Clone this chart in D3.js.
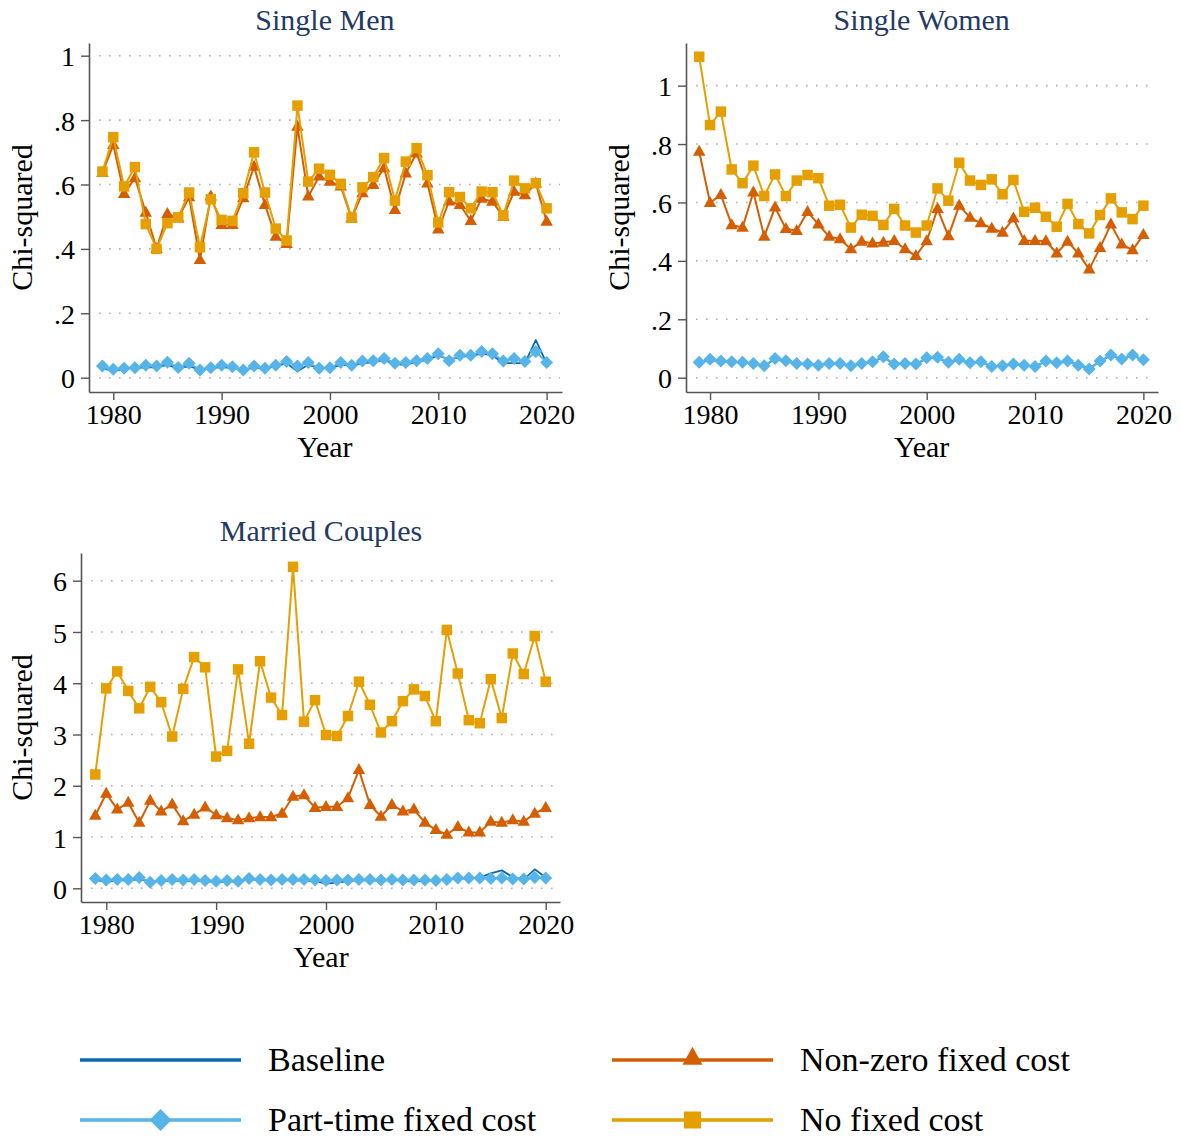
<!DOCTYPE html>
<html>
<head>
<meta charset="utf-8">
<script src="https://cdn.jsdelivr.net/npm/d3@7"></script>
<style>
  html, body { margin: 0; padding: 0; background: #fff; }
  svg { display: block; font-family: "Liberation Serif", "Times New Roman", serif; }
</style>
</head>
<body>
<svg id="chart" width="1181" height="1139"></svg>
<script>
const years = [1979,1980,1981,1982,1983,1984,1985,1986,1987,1988,1989,1990,1991,1992,1993,1994,1995,1996,1997,1998,1999,2000,2001,2002,2003,2004,2005,2006,2007,2008,2009,2010,2011,2012,2013,2014,2015,2016,2017,2018,2019,2020];

const seriesNames = ["Baseline", "Part-time fixed cost", "Non-zero fixed cost", "No fixed cost"];
const panelTitles = ["Single Men", "Single Women", "Married Couples"];
const xTickValues = [1980, 1990, 2000, 2010, 2020];
const smTicks = [0, 0.2, 0.4, 0.6, 0.8, 1];
const swTicks = [0, 0.2, 0.4, 0.6, 0.8, 1];
const mcTicks = [0, 1, 2, 3, 4, 5, 6];

// Single Men
const smBaseline = [0.030,0.020,0.028,0.030,0.032,0.032,0.040,0.030,0.035,0.026,
  0.030,0.033,0.030,0.026,0.030,0.030,0.035,0.045,0.020,0.040,
  0.030,0.030,0.040,0.038,0.045,0.048,0.055,0.042,0.040,0.050,
  0.055,0.070,0.055,0.065,0.068,0.075,0.070,0.045,0.045,0.045,
  0.117,0.045];
const smPartTime = [0.036,0.026,0.029,0.031,0.039,0.036,0.048,0.032,0.045,0.024,
  0.031,0.039,0.034,0.024,0.036,0.029,0.039,0.050,0.036,0.047,
  0.029,0.031,0.047,0.039,0.052,0.053,0.060,0.045,0.047,0.053,
  0.060,0.074,0.053,0.070,0.070,0.081,0.074,0.052,0.060,0.050,
  0.081,0.047];
const smNonZero = [0.636,0.723,0.571,0.620,0.513,0.400,0.509,0.495,0.561,0.366,
  0.563,0.475,0.475,0.558,0.656,0.537,0.438,0.416,0.780,0.563,
  0.625,0.609,0.594,0.495,0.573,0.599,0.651,0.521,0.635,0.697,
  0.604,0.461,0.548,0.537,0.487,0.556,0.547,0.500,0.578,0.567,
  0.604,0.485];
const smNoFixed = [0.640,0.747,0.594,0.654,0.477,0.400,0.480,0.498,0.575,0.405,
  0.554,0.490,0.487,0.573,0.700,0.575,0.463,0.426,0.845,0.609,
  0.649,0.630,0.602,0.497,0.591,0.623,0.682,0.550,0.671,0.713,
  0.629,0.482,0.576,0.561,0.526,0.578,0.576,0.504,0.612,0.588,
  0.604,0.526];

// Single Women
const swBaseline = [0.052,0.060,0.056,0.054,0.052,0.048,0.041,0.063,0.056,0.048,
  0.046,0.043,0.048,0.048,0.041,0.048,0.054,0.070,0.046,0.048,
  0.046,0.066,0.068,0.052,0.061,0.050,0.054,0.038,0.041,0.046,
  0.043,0.038,0.056,0.050,0.056,0.043,0.031,0.056,0.076,0.063,
  0.076,0.060];
const swPartTime = [0.053,0.063,0.057,0.055,0.053,0.049,0.041,0.066,0.058,0.049,
  0.047,0.043,0.049,0.049,0.041,0.049,0.055,0.072,0.047,0.049,
  0.047,0.068,0.070,0.053,0.063,0.051,0.055,0.038,0.041,0.047,
  0.043,0.038,0.057,0.051,0.057,0.043,0.030,0.057,0.078,0.064,
  0.078,0.061];
const swNonZero = [0.774,0.599,0.626,0.523,0.514,0.635,0.483,0.583,0.510,0.503,
  0.568,0.525,0.483,0.475,0.440,0.466,0.460,0.463,0.469,0.440,
  0.417,0.468,0.578,0.485,0.589,0.548,0.529,0.511,0.497,0.546,
  0.469,0.469,0.468,0.426,0.466,0.426,0.371,0.445,0.525,0.457,
  0.437,0.489];
const swNoFixed = [1.099,0.865,0.911,0.713,0.666,0.726,0.622,0.696,0.622,0.675,
  0.694,0.683,0.589,0.592,0.514,0.558,0.554,0.523,0.578,0.521,
  0.497,0.521,0.648,0.606,0.736,0.675,0.660,0.679,0.628,0.677,
  0.568,0.582,0.551,0.517,0.595,0.526,0.494,0.557,0.614,0.566,
  0.543,0.589];

// Married Couples
const mcBaseline = [0.17,0.12,0.16,0.15,0.18,0.13,0.14,0.15,0.14,0.15,
  0.14,0.12,0.13,0.13,0.18,0.16,0.15,0.16,0.15,0.15,
  0.14,0.09,0.11,0.14,0.16,0.15,0.15,0.16,0.15,0.13,
  0.15,0.15,0.18,0.19,0.19,0.21,0.29,0.35,0.22,0.17,
  0.37,0.21];
const mcPartTime = [0.19,0.16,0.17,0.17,0.21,0.12,0.15,0.17,0.16,0.17,
  0.15,0.14,0.15,0.14,0.19,0.17,0.16,0.17,0.17,0.17,
  0.16,0.15,0.16,0.16,0.17,0.17,0.16,0.17,0.16,0.16,
  0.16,0.15,0.17,0.20,0.20,0.20,0.19,0.20,0.18,0.18,
  0.21,0.20];
const mcNonZero = [1.42,1.85,1.54,1.67,1.28,1.71,1.50,1.64,1.31,1.44,
  1.58,1.43,1.37,1.33,1.37,1.39,1.39,1.46,1.79,1.82,
  1.57,1.59,1.59,1.76,2.31,1.63,1.40,1.63,1.50,1.54,
  1.28,1.14,1.05,1.20,1.09,1.09,1.30,1.28,1.33,1.30,
  1.46,1.57];
const mcNoFixed = [2.22,3.90,4.23,3.85,3.51,3.93,3.63,2.96,3.89,4.51,
  4.31,2.57,2.68,4.27,2.82,4.43,3.72,3.38,6.27,3.25,
  3.67,2.99,2.97,3.36,4.03,3.58,3.04,3.26,3.65,3.88,
  3.75,3.26,5.04,4.19,3.28,3.22,4.08,3.32,4.58,4.18,
  4.92,4.03];

// ---------- styling ----------
const colors = { base: "#0a6aad", part: "#56b4e9", nonzero: "#d55e00", nofixed: "#e69f00" };
const titleColor = "#243a63";
const axisColor = "#555555";
const serif = "Liberation Serif, Times New Roman, serif";

const svg = d3.select("#chart");

const fracFmt = v => v === 0 ? "0" : (v === 1 ? "1" : d3.format(".1f")(v).replace(/^0/, ""));

const panels = [
  { title: panelTitles[0], ticks: smTicks, fmt: fracFmt,
    xDom: [1977.76, 2021.42], xRange: [89, 562], yDom: [-0.0444, 1.0394], yRange: [392, 43],
    data: [smBaseline, smPartTime, smNonZero, smNoFixed], titleY: 30, yTitleX: 32 },
  { title: panelTitles[1], ticks: swTicks, fmt: fracFmt,
    xDom: [1977.78, 2021.35], xRange: [686, 1158], yDom: [-0.049, 1.146], yRange: [392, 43],
    data: [swBaseline, swPartTime, swNonZero, swNoFixed], titleY: 30, yTitleX: 629 },
  { title: panelTitles[2], ticks: mcTicks, fmt: v => String(v),
    xDom: [1977.7, 2021.3], xRange: [81, 560], yDom: [-0.267, 6.54], yRange: [902, 553],
    data: [mcBaseline, mcPartTime, mcNonZero, mcNoFixed], titleY: 541, yTitleX: 32 }
];

function diamondPath(r) {
  return `M0,${-r}L${r},0L0,${r}L${-r},0Z`;
}
function trianglePath(w, h) {
  return `M0,${-h * 0.62}L${w / 2},${h * 0.38}L${-w / 2},${h * 0.38}Z`;
}
function squarePath(s) {
  const h = s / 2;
  return `M${-h},${-h}L${h},${-h}L${h},${h}L${-h},${h}Z`;
}

panels.forEach(p => {
  const x = d3.scaleLinear().domain(p.xDom).range(p.xRange);
  const y = d3.scaleLinear().domain(p.yDom).range(p.yRange);
  const g = svg.append("g");

  // gridlines
  g.append("g").selectAll("line").data(p.ticks).join("line")
    .attr("x1", p.xRange[0] + 10).attr("x2", p.xRange[1] - 2)
    .attr("y1", d => y(d)).attr("y2", d => y(d))
    .attr("stroke", "#b0b0b0").attr("stroke-width", 1.6)
    .attr("stroke-dasharray", "1.6 8.4");

  // y axis
  const yAxis = d3.axisLeft(y).tickValues(p.ticks).tickFormat(p.fmt).tickSize(8).tickSizeOuter(0).tickPadding(6);
  const ya = g.append("g").attr("transform", `translate(${p.xRange[0]},0)`).call(yAxis);
  ya.attr("font-family", serif);
  ya.select(".domain").attr("stroke", axisColor).attr("stroke-width", 1.6);
  ya.selectAll(".tick line").attr("stroke", axisColor).attr("stroke-width", 1.4);
  ya.selectAll(".tick text").attr("font-size", 28).attr("fill", "#000")
    .attr("font-family", serif).attr("dy", "0.36em");

  // x axis
  const xAxis = d3.axisBottom(x).tickValues(xTickValues).tickFormat(d3.format("d")).tickSize(8).tickSizeOuter(0).tickPadding(4);
  const xa = g.append("g").attr("transform", `translate(0,${p.yRange[0]})`).call(xAxis);
  xa.attr("font-family", serif);
  xa.select(".domain").attr("stroke", axisColor).attr("stroke-width", 1.6);
  xa.selectAll(".tick line").attr("stroke", axisColor).attr("stroke-width", 1.4);
  xa.selectAll(".tick text").attr("font-size", 28).attr("fill", "#000")
    .attr("font-family", serif).attr("dy", "0.72em");

  // title
  g.append("text").attr("x", x(2000) - 5).attr("y", p.titleY)
    .attr("text-anchor", "middle").attr("font-size", 30).attr("fill", titleColor).text(p.title);
  // x-axis title
  g.append("text").attr("x", x(2000) - 5).attr("y", p.yRange[0] + 65)
    .attr("text-anchor", "middle").attr("font-size", 30).attr("fill", "#000").text("Year");
  // y-axis title
  const ymid = (p.yRange[0] + p.yRange[1]) / 2;
  g.append("text").attr("transform", `translate(${p.yTitleX},${ymid}) rotate(-90)`)
    .attr("text-anchor", "middle").attr("font-size", 30).attr("fill", "#000").text("Chi-squared");

  const line = d3.line().x((d, i) => x(years[i])).y(d => y(d));
  const [base, part, nonzero, nofixed] = p.data;

  // Baseline
  g.append("path").datum(base).attr("d", line).attr("fill", "none")
    .attr("stroke", colors.base).attr("stroke-width", 1.8).attr("stroke-linejoin", "round");
  // Part-time
  g.append("path").datum(part).attr("d", line).attr("fill", "none")
    .attr("stroke", colors.part).attr("stroke-width", 2).attr("stroke-linejoin", "round");
  g.append("g").selectAll("path").data(part).join("path")
    .attr("transform", (d, i) => `translate(${x(years[i])},${y(d)})`)
    .attr("d", diamondPath(6.5)).attr("fill", colors.part);
  // Non-zero
  g.append("path").datum(nonzero).attr("d", line).attr("fill", "none")
    .attr("stroke", colors.nonzero).attr("stroke-width", 2).attr("stroke-linejoin", "round");
  g.append("g").selectAll("path").data(nonzero).join("path")
    .attr("transform", (d, i) => `translate(${x(years[i])},${y(d)})`)
    .attr("d", trianglePath(12.5, 11)).attr("fill", colors.nonzero);
  // No fixed cost
  g.append("path").datum(nofixed).attr("d", line).attr("fill", "none")
    .attr("stroke", colors.nofixed).attr("stroke-width", 2).attr("stroke-linejoin", "round");
  g.append("g").selectAll("path").data(nofixed).join("path")
    .attr("transform", (d, i) => `translate(${x(years[i])},${y(d)})`)
    .attr("d", squarePath(10.5)).attr("fill", colors.nofixed);
});

// ---------- legend ----------
const legendItems = [
  { name: seriesNames[0], color: colors.base, marker: null, x1: 80, x2: 241, tx: 268, y: 1060 },
  { name: seriesNames[1], color: colors.part, marker: "diamond", x1: 80, x2: 241, tx: 268, y: 1120 },
  { name: seriesNames[2], color: colors.nonzero, marker: "triangle", x1: 612, x2: 773, tx: 800, y: 1060 },
  { name: seriesNames[3], color: colors.nofixed, marker: "square", x1: 612, x2: 773, tx: 800, y: 1120 }
];
const lg = svg.append("g");
legendItems.forEach(it => {
  lg.append("line").attr("x1", it.x1).attr("x2", it.x2).attr("y1", it.y).attr("y2", it.y)
    .attr("stroke", it.color).attr("stroke-width", 3.5);
  const mx = (it.x1 + it.x2) / 2;
  if (it.marker === "diamond") lg.append("path").attr("transform", `translate(${mx},${it.y})`).attr("d", diamondPath(11)).attr("fill", it.color);
  if (it.marker === "triangle") lg.append("path").attr("transform", `translate(${mx},${it.y - 2})`).attr("d", trianglePath(20, 18)).attr("fill", it.color);
  if (it.marker === "square") lg.append("path").attr("transform", `translate(${mx},${it.y})`).attr("d", squarePath(17)).attr("fill", it.color);
  lg.append("text").attr("x", it.tx).attr("y", it.y + 11).attr("font-size", 34).attr("fill", "#000").text(it.name);
});
</script>
</body>
</html>
